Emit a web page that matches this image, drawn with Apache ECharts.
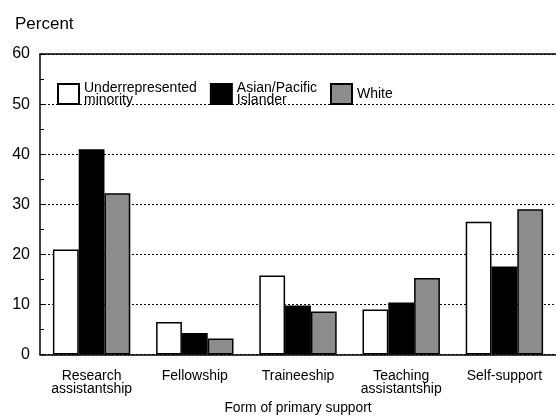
<!DOCTYPE html>
<html><head><meta charset="utf-8">
<script src="https://cdn.jsdelivr.net/npm/echarts@6/dist/echarts.min.js"></script>
<style>html,body{margin:0;padding:0;background:#fff}#c{width:556px;height:420px}</style>
</head><body><div id="c"></div>
<script>
const categories = ['Research\nassistantship', 'Fellowship', 'Traineeship', 'Teaching\nassistantship', 'Self-support'];
const seriesNames = ['Underrepresented\nminority', 'Asian/Pacific\nIslander', 'White'];
const underrepresented = [21, 6.5, 15.8, 9, 26.5];
const asianPacific = [41, 4.3, 9.8, 10.4, 17.6];
const white = [32.2, 3.2, 8.6, 15.3, 29];
const yTicks = [0, 10, 20, 30, 40, 50, 60];

const chart = echarts.init(document.getElementById('c'));
const font = 'Liberation Sans, Arial, sans-serif';
const colors = ['#ffffff', '#000000', '#8c8c8c'];
const data = [underrepresented, asianPacific, white];
chart.setOption({
  animation: false,
  textStyle: { fontFamily: font, color: '#000' },
  grid: { left: 40, right: -3, top: 54, bottom: 61 },
  title: { text: 'Percent', left: 10, top: 11, textStyle: { fontFamily: font, fontSize: 17, fontWeight: 'normal', color: '#000' } },
  legend: {
    left: 52, top: 76, itemWidth: 21, itemHeight: 20, itemGap: 13,
    icon: 'rect',
    textStyle: { fontFamily: font, fontSize: 14, color: '#000', lineHeight: 12 },
    data: seriesNames
  },
  xAxis: [{
    type: 'category', data: categories,
    axisLine: { lineStyle: { color: '#000', width: 1.5 } },
    axisTick: { inside: true, length: 6, lineStyle: { color: '#000' } },
    axisLabel: { color: '#000', fontSize: 14, lineHeight: 13, margin: 15, fontFamily: font, interval: 0 },
    name: 'Form of primary support', nameLocation: 'middle', nameGap: 46,
    nameTextStyle: { fontFamily: font, fontSize: 13.8, color: '#000' }
  }, {
    type: 'category', data: categories, position: 'top',
    axisLine: { show: true, lineStyle: { color: '#000', width: 1.5 } },
    axisTick: { show: false }, axisLabel: { show: false }
  }],
  yAxis: {
    type: 'value', min: yTicks[0], max: yTicks[yTicks.length - 1], interval: 10,
    axisLine: { show: true, lineStyle: { color: '#000', width: 1.5 } },
    axisTick: { show: true, inside: true, length: 4, lineStyle: { color: '#000' } },
    minorTick: { show: true, splitNumber: 2, length: 4, lineStyle: { color: '#000' } },
    axisLabel: { color: '#000', fontSize: 16, margin: 10, fontFamily: font },
    splitLine: {
      show: true,
      lineStyle: { color: '#000', width: 1, type: [2, 2] }
    }
  },
  series: data.map((d, i) => ({
    name: seriesNames[i], type: 'bar', data: d,
    barGap: '0%', barCategoryGap: '25%',
    itemStyle: { color: colors[i], borderColor: '#000', borderWidth: 1.5 }
  }))
});
</script></body></html>
